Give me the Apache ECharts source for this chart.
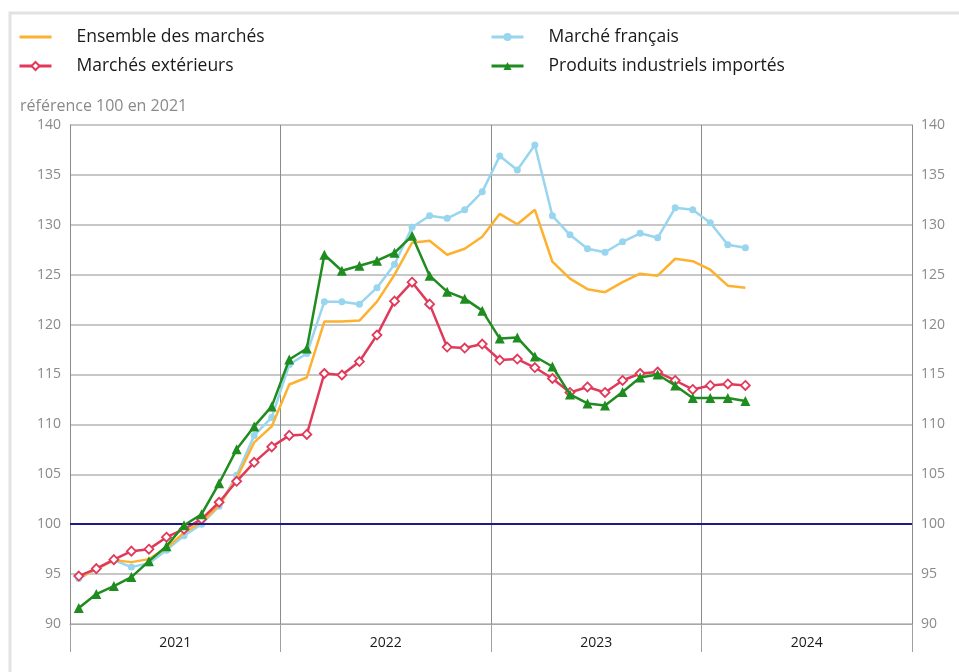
<!DOCTYPE html>
<html>
<head>
<meta charset="utf-8">
<script src="https://cdn.jsdelivr.net/npm/echarts@6/dist/echarts.min.js"></script>
<style>
html,body{margin:0;padding:0;background:#fff;}
#chart{width:959px;height:672px;}
</style>
</head>
<body>
<div id="chart"></div>
<script>
// Monthly categories Jan 2021 - Dec 2024
const years = ['2021', '2022', '2023', '2024'];
const months = [];
years.forEach(y => { for (let m = 1; m <= 12; m++) months.push(y + '-' + String(m).padStart(2, '0')); });

const seriesNames = ['Ensemble des marchés', 'Marché français', 'Marchés extérieurs', 'Produits industriels importés'];

const ensemble = [94.65, 95.5, 96.4, 96.2, 96.5, 97.6, 99.15, 100.2, 101.9, 104.6, 108.2, 109.8,
  114.0, 114.7, 120.3, 120.3, 120.4, 122.3, 125.0, 128.2, 128.4, 127.0, 127.6, 128.8,
  131.1, 130.05, 131.5, 126.3, 124.6, 123.55, 123.25, 124.25, 125.1, 124.9, 126.6, 126.35,
  125.5, 123.9, 123.7];
const francais = [94.55, 95.5, 96.4, 95.7, 96.1, 97.4, 98.85, 100.0, 101.8, 104.9, 108.9, 110.7,
  116.0, 117.1, 122.3, 122.3, 122.05, 123.7, 126.05, 129.75, 130.9, 130.65, 131.5, 133.3,
  136.9, 135.5, 138.0, 130.9, 129.0, 127.6, 127.25, 128.3, 129.15, 128.7, 131.7, 131.5,
  130.2, 128.0, 127.7];
const exterieurs = [94.8, 95.55, 96.45, 97.3, 97.5, 98.7, 99.5, 100.5, 102.2, 104.3, 106.2, 107.75,
  108.9, 109.0, 115.1, 114.95, 116.3, 118.95, 122.35, 124.25, 122.05, 117.75, 117.65, 118.05,
  116.45, 116.55, 115.7, 114.6, 113.2, 113.75, 113.2, 114.4, 115.1, 115.25, 114.4, 113.5,
  113.9, 114.05, 113.9];
const importes = [91.6, 93.0, 93.8, 94.7, 96.3, 97.8, 99.9, 101.0, 104.1, 107.5, 109.8, 111.8,
  116.5, 117.6, 127.0, 125.4, 125.9, 126.4, 127.2, 128.9, 124.9, 123.3, 122.6, 121.4,
  118.6, 118.7, 116.8, 115.8, 113.0, 112.1, 111.9, 113.25, 114.7, 115.0, 113.9, 112.65,
  112.65, 112.65, 112.35];

const yTicks = [90, 140, 5]; // min, max, interval
const refValue = 100;

const FONT = '"Open Sans", "Noto Sans", sans-serif';
const chart = echarts.init(document.getElementById('chart'), null, {renderer: 'canvas'});

const colors = ['#fdb130', '#98d5ee', '#e0395a', '#1f8c1f'];

function legendAt(item, left, top) {
  return {
    data: [item], left: left, top: top, orient: 'horizontal',
    itemWidth: 32, itemHeight: 10, padding: 0,
    lineStyle: {width: 3},
    textStyle: {fontFamily: FONT, fontSize: 17.5, color: '#1a1a1a', padding: [0, 0, 0, 20]},
    selectedMode: false
  };
}

const option = {
  animation: false,
  backgroundColor: '#fff',
  textStyle: {fontFamily: FONT},
  graphic: [{
    type: 'polyline', silent: true,
    shape: {points: [[10, 700], [10, 13], [980, 13]]},
    style: {stroke: '#e2e2e2', lineWidth: 3, fill: null}
  }],
  title: {
    text: 'référence 100 en 2021', left: 15, top: 93,
    textStyle: {fontFamily: FONT, fontSize: 16, fontWeight: 'normal', color: '#8a8a8a'}
  },
  legend: [
    legendAt({name: seriesNames[0], itemStyle: {opacity: 0}}, 18, 28),
    legendAt({name: seriesNames[1]}, 490, 28),
    legendAt({name: seriesNames[2]}, 18, 57),
    legendAt({name: seriesNames[3]}, 490, 57)
  ],
  grid: {left: 70, right: 47, top: 125, bottom: 48},
  xAxis: [{
    type: 'category', data: months, boundaryGap: true, show: false
  }, {
    type: 'category', data: years, position: 'bottom', boundaryGap: true,
    axisLine: {show: true, lineStyle: {color: '#a8a8a8', width: 1}},
    axisTick: {show: true, length: 28, interval: 0, lineStyle: {color: '#a0a0a0', width: 1}},
    axisLabel: {margin: 12, fontFamily: FONT, fontSize: 14, color: '#1a1a1a', interval: 0},
    splitLine: {show: true, interval: 0, lineStyle: {color: '#8c8c8c', width: 1}}
  }],
  yAxis: [{
    type: 'value', min: yTicks[0], max: yTicks[1], interval: yTicks[2], position: 'left',
    axisLine: {show: true, lineStyle: {color: '#8c8c8c'}},
    axisTick: {show: false},
    axisLabel: {margin: 9, fontFamily: FONT, fontSize: 14, color: '#8a8a8a'},
    splitLine: {show: true, lineStyle: {color: '#b4b4b4', width: 1.5}}
  }, {
    type: 'value', min: yTicks[0], max: yTicks[1], interval: yTicks[2], position: 'right',
    axisLine: {show: true, lineStyle: {color: '#8c8c8c'}},
    axisTick: {show: false},
    axisLabel: {margin: 9, fontFamily: FONT, fontSize: 14, color: '#8a8a8a'},
    splitLine: {show: false}
  }],
  series: [{
    name: seriesNames[0], type: 'line', data: ensemble, xAxisIndex: 0, yAxisIndex: 0,
    symbol: 'none', lineStyle: {color: colors[0], width: 2.5}, itemStyle: {color: colors[0]}, z: 3,
    markLine: {
      silent: true, symbol: 'none', label: {show: false},
      lineStyle: {color: '#1c1c84', width: 2, type: 'solid'},
      data: [{yAxis: refValue}]
    }
  }, {
    name: seriesNames[1], type: 'line', data: francais, xAxisIndex: 0, yAxisIndex: 0,
    symbol: 'circle', symbolSize: 7, lineStyle: {color: colors[1], width: 2.5},
    itemStyle: {color: colors[1]}, z: 2
  }, {
    name: seriesNames[2], type: 'line', data: exterieurs, xAxisIndex: 0, yAxisIndex: 0,
    symbol: 'diamond', symbolSize: 9, showAllSymbol: true, lineStyle: {color: colors[2], width: 2.5},
    itemStyle: {color: '#fff', borderColor: colors[2], borderWidth: 1.8}, z: 4
  }, {
    name: seriesNames[3], type: 'line', data: importes, xAxisIndex: 0, yAxisIndex: 0,
    symbol: 'triangle', symbolSize: 10, lineStyle: {color: colors[3], width: 2.5},
    itemStyle: {color: colors[3]}, z: 5
  }]
};
chart.setOption(option);
</script>
</body>
</html>
